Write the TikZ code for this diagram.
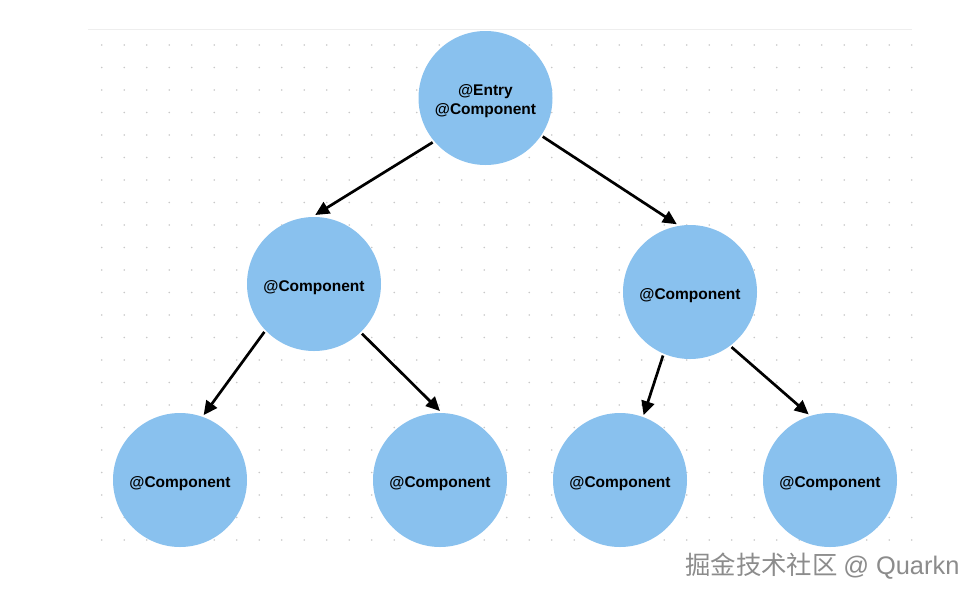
\documentclass[tikz,border=0pt]{standalone}
\usepackage{fontspec}
\setmainfont{Liberation Sans}
\newfontfamily\cjkfont{Noto Sans CJK SC}
\usetikzlibrary{arrows.meta}
\definecolor{nodeblue}{RGB}{137,193,238}
\definecolor{dotgray}{RGB}{200,200,200}
\definecolor{linegray}{RGB}{238,238,238}
\definecolor{markgray}{RGB}{140,140,140}
\newcommand\dnlbl[1]{\raisebox{-3.5pt}[\height][\depth]{\begin{tabular}{@{}c@{}}#1\end{tabular}}}
\begin{document}
\begin{tikzpicture}[x=1pt,y=-1pt,
  comp/.style={circle,fill=nodeblue,minimum size=134pt,inner sep=0pt,outer sep=2pt,
    font=\fontsize{15.5}{19}\selectfont\bfseries,text=black},
  link/.style={line width=2.7pt,black,-{Triangle[length=14pt,width=13pt]}}]
\fill[white] (0,0) rectangle (978,598);
\useasboundingbox (0,0) rectangle (978,598);
% top rule
\draw[linegray,line width=1pt] (88,29.5) -- (912,29.5);
% dot grid
\foreach \i in {0,...,36}{
  \foreach \j in {0,...,22}{
    \fill[dotgray] (101.7+22.5*\i,45+22.5*\j) circle (0.9pt);
  }
}
% nodes
\node[comp] (root) at (485.5,98) {\dnlbl{@Entry\\@Component}};
\node[comp] (ml) at (314,284) {\dnlbl{@Component}};
\node[comp] (mr) at (690,292) {\dnlbl{@Component}};
\node[comp] (b1) at (180,480) {\dnlbl{@Component}};
\node[comp] (b2) at (440,480) {\dnlbl{@Component}};
\node[comp] (b3) at (620,480) {\dnlbl{@Component}};
\node[comp] (b4) at (830,480) {\dnlbl{@Component}};
% connectors
\draw[link] (root.220.6) -- (ml.89);
\draw[link] (root.326.5) -- (mr.101);
\draw[link] (ml.224) -- (b1.70);
\draw[link] (ml.314) -- (b2.90);
\draw[link] (mr.247.6) -- (b3.70.4);
\draw[link] (mr.307) -- (b4.108);
% watermark
\node[anchor=west,inner sep=0pt,text=markgray,font=\fontsize{25.4}{30}\selectfont] (wm) at (685,566) {\cjkfont 掘金技术社区\ \rmfamily @ Quarkn};
\end{tikzpicture}
\end{document}
